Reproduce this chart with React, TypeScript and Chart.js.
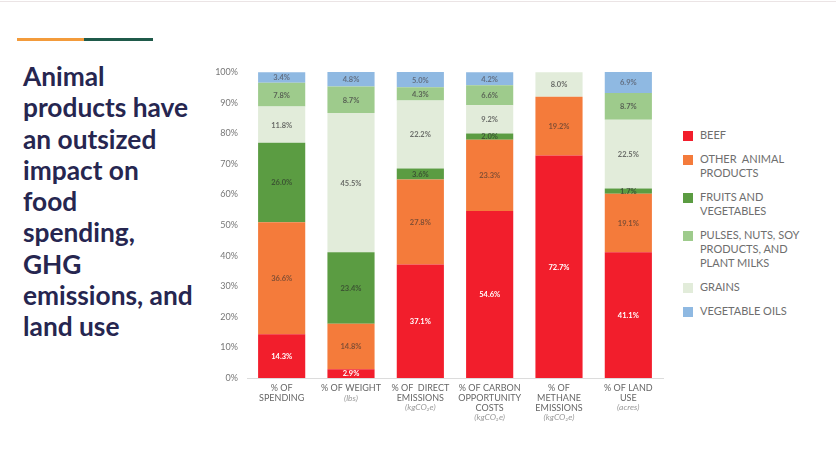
import React, { useEffect, useRef } from "react";
import { Chart, registerables } from "chart.js";

Chart.register(...registerables);

// Category labels (main lines) and their unit lines
const categoryLines: string[][] = [
  ["% OF", "SPENDING"],
  ["% OF WEIGHT"],
  ["% OF  DIRECT", "EMISSIONS"],
  ["% OF CARBON", "OPPORTUNITY", "COSTS"],
  ["% OF", "METHANE", "EMISSIONS"],
  ["% OF LAND", "USE"],
];
const categoryUnits: string[] = ["", "(lbs)", "(kgCO₂e)", "(kgCO₂e)", "(kgCO₂e)", "(acres)"];

// Shares by food group, in percent (stacked bottom to top)
const beef = [14.3, 2.9, 37.1, 54.6, 72.7, 41.1];
const otherAnimal = [36.6, 14.8, 27.8, 23.3, 19.2, 19.1];
const fruitsVeg = [26.0, 23.4, 3.6, 2.0, 0, 1.7];
const grains = [11.8, 45.5, 22.2, 9.2, 8.0, 22.5];
const pulses = [7.8, 8.7, 4.3, 6.6, 0, 8.7];
const oils = [3.4, 4.8, 5.0, 4.2, 0, 6.9];

const yTickValues = [0, 10, 20, 30, 40, 50, 60, 70, 80, 90, 100];

const COLORS = {
  beef: "#f21e2c",
  other: "#f47b3b",
  fruits: "#5b9c42",
  pulses: "#9ecb8c",
  grains: "#e2ecda",
  oils: "#8fb9e2",
};

const legendItems: { color: string; lines: string[] }[] = [
  { color: COLORS.beef, lines: ["BEEF"] },
  { color: COLORS.other, lines: ["OTHER  ANIMAL", "PRODUCTS"] },
  { color: COLORS.fruits, lines: ["FRUITS AND", "VEGETABLES"] },
  { color: COLORS.pulses, lines: ["PULSES, NUTS, SOY", "PRODUCTS, AND", "PLANT MILKS"] },
  { color: COLORS.grains, lines: ["GRAINS"] },
  { color: COLORS.oils, lines: ["VEGETABLE OILS"] },
];

const titleLines = [
  "Animal",
  "products have",
  "an outsized",
  "impact on",
  "food",
  "spending,",
  "GHG",
  "emissions, and",
  "land use",
];

// Writes each segment's value in the middle of its bar piece
const valueLabels = {
  id: "valueLabels",
  afterDatasetsDraw(chart: any) {
    const ctx = chart.ctx;
    ctx.save();
    ctx.textAlign = "center";
    ctx.textBaseline = "middle";
    ctx.font = "bold 7.5px Lato";
    chart.data.datasets.forEach((ds: any, di: number) => {
      const meta = chart.getDatasetMeta(di);
      meta.data.forEach((bar: any, i: number) => {
        const v = ds.data[i];
        if (!v) return;
        const p = bar.getProps(["x", "y", "base"], true);
        ctx.fillStyle = ds.labelColor;
        ctx.fillText(v.toFixed(1) + "%", p.x, (p.y + p.base) / 2 + 0.5);
      });
    });
    ctx.restore();
  },
};

// Multi-line category names under the axis, with italic units
const categoryAxisLabels = {
  id: "categoryAxisLabels",
  afterDraw(chart: any) {
    const ctx = chart.ctx;
    const xScale = chart.scales.x;
    const top = chart.chartArea.bottom + 10.5;
    const lh = 9.6;
    ctx.save();
    ctx.textAlign = "center";
    ctx.textBaseline = "middle";
    categoryLines.forEach((lines, i) => {
      const x = xScale.getPixelForValue(i);
      ctx.font = "9px Lato";
      ctx.fillStyle = "#666666";
      lines.forEach((t, k) => ctx.fillText(t, x, top + k * lh));
      if (categoryUnits[i]) {
        ctx.font = "italic 8.5px Lato";
        ctx.fillStyle = "#9a9a9a";
        ctx.fillText(categoryUnits[i], x, top + lines.length * lh);
      }
    });
    ctx.restore();
  },
};

export default function App() {
  const canvasRef = useRef<HTMLCanvasElement | null>(null);

  useEffect(() => {
    if (!canvasRef.current) return;
    const darkText = "rgba(70,70,70,0.78)";
    const chart = new Chart(canvasRef.current, {
      type: "bar",
      data: {
        labels: categoryLines.map((l) => l.join(" ")),
        datasets: [
          { label: "Beef", data: beef, backgroundColor: COLORS.beef, labelColor: "#ffffff" } as any,
          { label: "Other animal products", data: otherAnimal, backgroundColor: COLORS.other, labelColor: "rgba(80,60,50,0.7)" },
          { label: "Fruits and vegetables", data: fruitsVeg, backgroundColor: COLORS.fruits, labelColor: "rgba(50,60,45,0.75)" },
          { label: "Grains", data: grains, backgroundColor: COLORS.grains, labelColor: darkText },
          { label: "Pulses, nuts, soy products, and plant milks", data: pulses, backgroundColor: COLORS.pulses, labelColor: darkText },
          { label: "Vegetable oils", data: oils, backgroundColor: COLORS.oils, labelColor: "rgba(80,80,90,0.7)" },
        ],
      },
      options: {
        responsive: false,
        animation: false,
        layout: { padding: { top: 16, right: 7, bottom: 76, left: 0 } },
        datasets: { bar: { categoryPercentage: 0.68, barPercentage: 1, borderWidth: 0 } },
        plugins: { legend: { display: false }, tooltip: { enabled: false } },
        scales: {
          x: {
            stacked: true,
            grid: { display: false },
            border: { display: true, color: "#dcdcdc", width: 1 },
            ticks: { display: false },
            afterFit: (s: any) => {
              s.height = 0;
            },
          },
          y: {
            stacked: true,
            min: 0,
            max: 100,
            afterBuildTicks: (s: any) => {
              s.ticks = yTickValues.map((v) => ({ value: v }));
            },
            grid: { display: false, drawTicks: false },
            border: { display: false },
            ticks: {
              padding: 9,
              color: "#777777",
              font: { family: "Lato", size: 9 },
              callback: (v: any) => v + "%",
            },
            afterFit: (s: any) => {
              s.width = 47;
            },
          },
        },
      } as any,
      plugins: [valueLabels, categoryAxisLabels],
    });
    return () => chart.destroy();
  }, []);

  return (
    <div
      style={{
        position: "absolute",
        left: 0,
        top: 0,
        width: 836,
        height: 454,
        background: "#ffffff",
        overflow: "hidden",
        fontFamily: "Lato, 'Open Sans', sans-serif",
      }}
    >
      <div style={{ position: "absolute", left: 0, top: 1, width: 836, height: 1, background: "#ebe4e5" }} />
      <div style={{ position: "absolute", left: 17, top: 38, width: 67, height: 3, background: "#f39b3b" }} />
      <div style={{ position: "absolute", left: 84, top: 38, width: 69, height: 3, background: "#1f5a4a" }} />
      <div
        style={{
          position: "absolute",
          left: 23,
          top: 61,
          fontSize: 26.3,
          lineHeight: "31.3px",
          fontWeight: 700,
          color: "#262650",
          whiteSpace: "nowrap",
        }}
      >
        {titleLines.map((t, i) => (
          <div key={i}>{t}</div>
        ))}
      </div>
      <canvas
        ref={canvasRef}
        width={470}
        height={398}
        style={{ position: "absolute", left: 200, top: 56, width: 470, height: 398 }}
      />
      <div style={{ position: "absolute", left: 683, top: 128 }}>
        {legendItems.map((it, i) => (
          <div key={i} style={{ position: "relative", marginBottom: 10, paddingLeft: 17 }}>
            <div
              style={{
                position: "absolute",
                left: 0,
                top: 3,
                width: 10,
                height: 10,
                background: it.color,
              }}
            />
            {it.lines.map((l, k) => (
              <div
                key={k}
                style={{ fontSize: 11, lineHeight: "14px", color: "#6e6e6e", whiteSpace: "pre" }}
              >
                {l}
              </div>
            ))}
          </div>
        ))}
      </div>
    </div>
  );
}
